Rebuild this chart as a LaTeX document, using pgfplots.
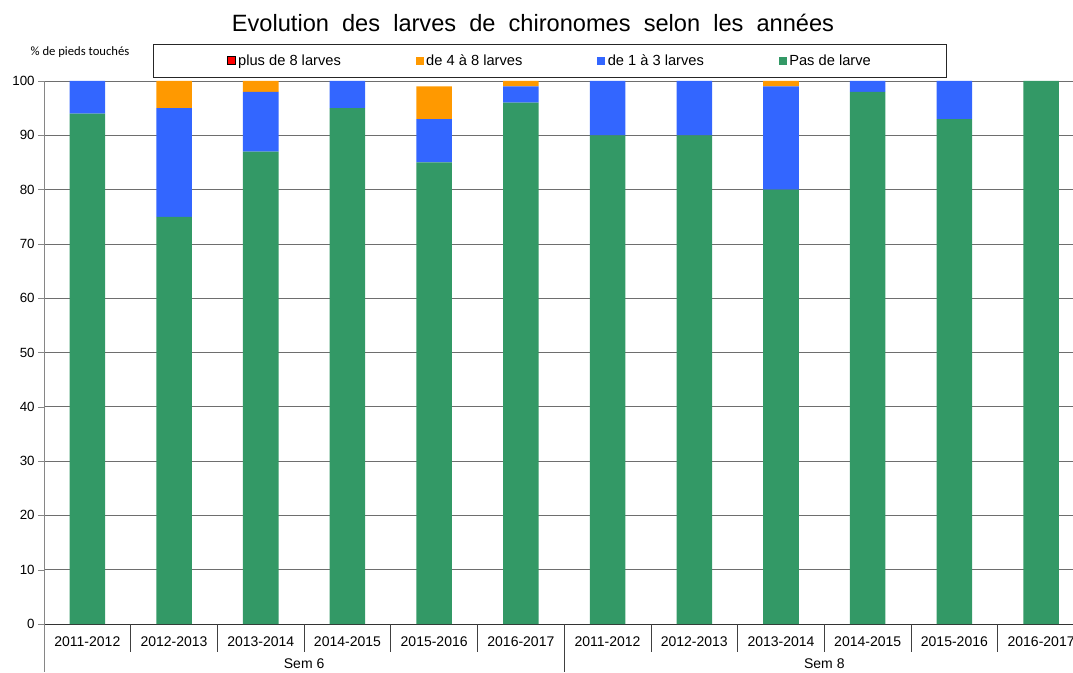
\documentclass[border=0pt]{standalone}
\usepackage{fontspec}
\setmainfont{Liberation Sans}
\newfontfamily\calibri{Carlito}
\usepackage{pgfplots}
\usepackage{pgfplotstable}
\pgfplotsset{compat=1.18}
\definecolor{cgreen}{HTML}{339966}
\definecolor{cblue}{HTML}{3366FF}
\definecolor{corange}{HTML}{FF9900}
\definecolor{cred}{HTML}{FF0000}
\definecolor{gridc}{HTML}{6E6E6E}
\definecolor{axc}{HTML}{868686}

\pgfplotstableread{
x green blue orange red
0 94 6 0 0
1 75 20 5 0
2 87 11 2 0
3 95 5 0 0
4 85 8 6 0
5 96 3 1 0
6 90 10 0 0
7 90 10 0 0
8 80 19 1 0
9 98 2 0 0
10 93 7 0 0
11 100 0 0 0
}\data

\begin{document}
\begin{tikzpicture}[x=0.75pt,y=0.75pt]
\path[use as bounding box] (0,0) rectangle (1073,672);
\node[font=\fontsize{17.7}{20}\selectfont, anchor=base] at (533,640) {Evolution\ \ des\ \ larves\ \ de\ \ chironomes\ \ selon\ \ les\ \ années};
\node[font=\calibri\fontsize{9.5}{11}\selectfont] at (80,620) {\% de pieds touchés};
\begin{axis}[
  at={(33pt,36pt)}, anchor=south west,
  scale only axis, width=771.75pt, height=407.25pt,
  xmin=-0.5, xmax=11.368, ymin=0, ymax=100,
  ybar stacked, bar width=0.41,
  clip=false,
  axis x line=bottom, axis y line=left,
  x axis line style={-, draw=black!80},
  y axis line style={-, draw=axc},
  ytick={0,10,...,100},
  ymajorgrids, grid style={draw=gridc, line width=0.6pt},
  ytick style={draw=axc},
  tick align=outside, major tick length=4.5pt,
  xtick={0,...,11},
  xticklabels={2011-2012,2012-2013,2013-2014,2014-2015,2015-2016,2016-2017,2011-2012,2012-2013,2013-2014,2014-2015,2015-2016,2016-2017},
  xtick style={draw=none},
  xticklabel style={font=\fontsize{10.5}{12}\selectfont, yshift=-1.5pt},
  yticklabel style={font=\fontsize{10}{12}\selectfont, xshift=1pt},
  /pgf/number format/assume math mode=true,
  reverse legend,
  legend columns=4,
  legend style={at={(0.1059,1.0681)}, anchor=north west, draw=black!85, line width=0.6pt,
    font=\fontsize{11}{13}\selectfont, inner xsep=55pt, inner ysep=5.5pt,
    /tikz/every even column/.append style={column sep=54pt}},
  legend image code/.code={\fill[#1] (0pt,-3pt) rectangle (6pt,3pt);},
]
\addplot[fill=cgreen, draw=none] table[x=x,y=green]{\data};
\addlegendentry{Pas de larve}
\addplot[fill=cblue, draw=none] table[x=x,y=blue]{\data};
\addlegendentry{de 1 à 3 larves}
\addplot[fill=corange, draw=none] table[x=x,y=orange]{\data};
\addlegendentry{de 4 à 8 larves}
\addplot[fill=cred, draw=none, legend image code/.code={\draw[fill=cred,draw=black,line width=0.6pt] (0pt,-3pt) rectangle (6pt,3pt);}] table[x=x,y=red]{\data};
\addlegendentry{plus de 8 larves}
\pgfplotsinvokeforeach{0.5,1.5,2.5,3.5,4.5,6.5,7.5,8.5,9.5,10.5}{
  \draw[black!75, line width=0.6pt] (axis cs:#1,0) -- ([yshift=-21pt]axis cs:#1,0);
}
\draw[black!75, line width=0.6pt] (axis cs:5.5,0) -- ([yshift=-36pt]axis cs:5.5,0);
\draw[axc, line width=0.6pt] (axis cs:-0.5,0) -- ([yshift=-36pt]axis cs:-0.5,0);
\node[anchor=base, font=\fontsize{10.5}{12}\selectfont] at ([yshift=-33.5pt]axis cs:2.5,0) {Sem 6};
\node[anchor=base, font=\fontsize{10.5}{12}\selectfont] at ([yshift=-33.5pt]axis cs:8.5,0) {Sem 8};
\end{axis}
\end{tikzpicture}
\end{document}
